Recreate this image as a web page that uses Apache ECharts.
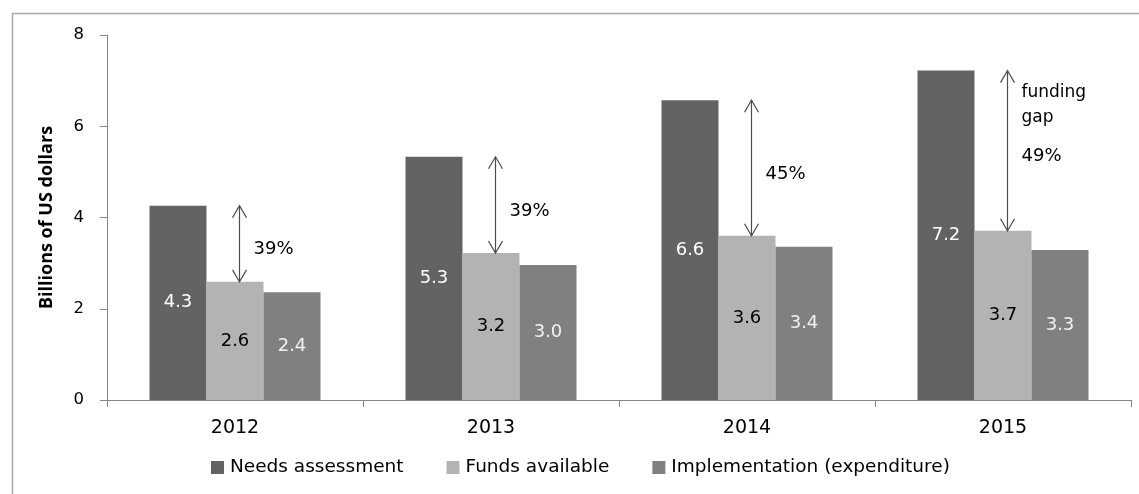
<!DOCTYPE html>
<html>
<head>
<meta charset="utf-8">
<script src="https://cdn.jsdelivr.net/npm/echarts@6/dist/echarts.min.js"></script>
<style>
	html, body {
		margin: 0;
		padding: 0;
		background: #fff;
	}

	#chart {
		width: 1139px;
		height: 494px;
	}
</style>
</head>
<body>
<div id="chart"></div>
<script>
	const years = ['2012', '2013', '2014', '2015'];
	const needsAssessment = [4.26, 5.33, 6.57, 7.22];
	const fundsAvailable = [2.59, 3.22, 3.60, 3.71];
	const implementation = [2.36, 2.96, 3.36, 3.29];
	const gapLabels = ['39%', '39%', '45%', '49%'];
	const gapNotes = ['', '', '', 'funding\ngap'];
	const seriesNames = ['Needs assessment', 'Funds available', 'Implementation (expenditure)'];

	const chart = echarts.init(document.getElementById('chart'));
	const textFont = 'DejaVu Sans';

	function barSeries(name, data, color, labelColor) {
		return {
			name: name,
			type: 'bar',
			data: data,
			barWidth: 57,
			barGap: '0%',
			itemStyle: { color: color },
			label: {
				show: true,
				position: 'inside',
				color: labelColor,
				fontFamily: textFont,
				fontSize: 18,
				formatter: p => p.value.toFixed(1)
			}
		};
	}

	const gapData = years.map((y, i) => [i, needsAssessment[i], fundsAvailable[i]]);

	const option = {
		animation: false,
		backgroundColor: '#fff',
		graphic: [{
			type: 'rect',
			shape: { x: 12.5, y: 13.5, width: 1300, height: 700 },
			style: { fill: 'none', stroke: '#a6a6a6', lineWidth: 1.5 },
			silent: true
		}],
		grid: {
			left: 107,
			right: 8,
			top: 35,
			bottom: 94
		},
		legend: {
			data: seriesNames,
			left: 211,
			top: 458,
			padding: 0,
			itemWidth: 13,
			itemHeight: 13,
			itemGap: 43,
			icon: 'rect',
			textStyle: {
				fontFamily: textFont,
				fontSize: 18.5,
				color: '#000',
				padding: [0, 0, 0, 1]
			}
		},
		xAxis: {
			type: 'category',
			data: years,
			axisLine: { lineStyle: { color: '#868686', width: 1 } },
			axisTick: { show: true, length: 7, lineStyle: { color: '#868686' } },
			axisLabel: {
				margin: 19,
				color: '#000',
				fontFamily: 'DejaVu Sans',
				fontSize: 19
			}
		},
		yAxis: {
			type: 'value',
			min: 0,
			max: 8,
			interval: 2,
			name: 'Billions of US dollars',
			nameLocation: 'middle',
			nameGap: 51,
			nameTextStyle: {
				fontFamily: 'Open Sans',
				fontWeight: 'bold',
				fontSize: 18,
				color: '#000'
			},
			splitLine: { show: false },
			axisLine: { show: true, lineStyle: { color: '#868686', width: 1 } },
			axisTick: { show: true, length: 7, lineStyle: { color: '#868686' } },
			axisLabel: {
				margin: 23,
				color: '#000',
				fontFamily: textFont,
				fontSize: 16.5
			}
		},
		series: [
			barSeries(seriesNames[0], needsAssessment, '#636363', '#ffffff'),
			barSeries(seriesNames[1], fundsAvailable, '#b3b3b3', '#000000'),
			barSeries(seriesNames[2], implementation, '#808080', '#f2f2f2'),
			{
				name: 'gap',
				type: 'custom',
				data: gapData,
				encode: { x: 0, y: [1, 2] },
				z: 5,
				renderItem: function (params, api) {
					const idx = api.value(0);
					const x = Math.round(api.coord([idx, 0])[0] + 4) + 0.5;
					const yTop = api.coord([idx, api.value(1)])[1];
					const yBot = api.coord([idx, api.value(2)])[1];
					const mid = (yTop + yBot) / 2;
					const lineStyle = { stroke: '#4d4d4d', lineWidth: 1.2, fill: 'none' };
					const children = [
						{ type: 'line', shape: { x1: x, y1: yTop, x2: x, y2: yBot }, style: lineStyle },
						{ type: 'polyline', shape: { points: [[x - 7, yTop + 12], [x, yTop], [x + 7, yTop + 12]] }, style: lineStyle },
						{ type: 'polyline', shape: { points: [[x - 7, yBot - 12], [x, yBot], [x + 7, yBot - 12]] }, style: lineStyle },
						{
							type: 'text',
							style: {
								text: gapLabels[params.dataIndex],
								x: x + 14,
								y: mid + 6,
								verticalAlign: 'middle',
								fill: '#000',
								fontFamily: textFont,
								fontSize: 18
							}
						}
					];
					const note = gapNotes[params.dataIndex];
					if (note) {
						children.push({
							type: 'text',
							style: {
								text: note,
								x: x + 14,
								y: yTop + 9,
								verticalAlign: 'top',
								lineHeight: 25,
								fill: '#000',
								fontFamily: textFont,
								fontSize: 17
							}
						});
					}
					return { type: 'group', children: children };
				}
			}
		]
	};

	chart.setOption(option);
</script>
</body>
</html>
